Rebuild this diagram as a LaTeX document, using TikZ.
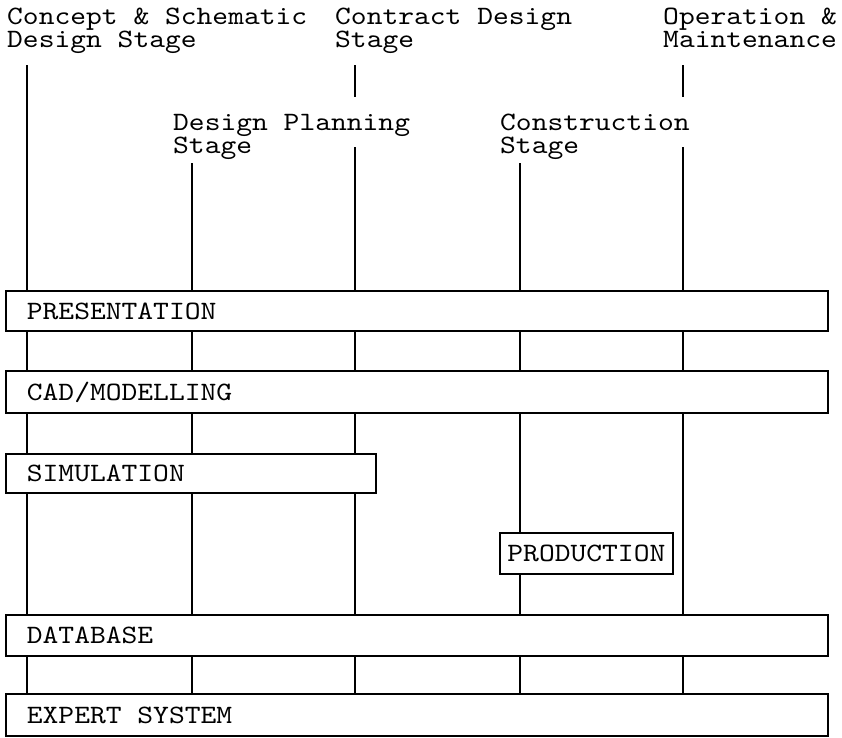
\documentclass[tikz,border=0pt]{standalone}
\usepackage{fontspec}
\newfontfamily\typewriterwide{lmmono10-regular}[Extension=.otf, FakeStretch=1.135]
\usetikzlibrary{backgrounds}
\newcommand\stagelabelfont{\typewriterwide\fontsize{26.5}{23}\selectfont\lineskiplimit-100pt\relax\lineskip0pt\relax}
\newcommand\layerfont{\typewriterwide\fontsize{26.5}{26}\selectfont}
\begin{document}
\begin{tikzpicture}[x=1pt,y=-1pt,
  lbl/.style={anchor=base west, inner sep=0pt, align=left, font=\stagelabelfont},
  layer/.style={draw, fill=white, line width=1.8pt, inner xsep=21pt, inner ysep=0pt,
    anchor=north west, font=\layerfont},
  stage/.style={line width=1.8pt}]
\useasboundingbox (0,0) rectangle (842,737);
% stage labels (anchored at the baseline of the last line)
\node[lbl] (l1) at (7,47.5) {Concept \& Schematic\\Design Stage};
\node[lbl] (l3) at (335,47.5) {Contract Design\\Stage};
\node[lbl] (l5) at (663,47.5) {Operation \&\\Maintenance};
\node[lbl] (l2) at (173,153.5) {Design Planning\\Stage};
\node[lbl] (l4) at (500,153.5) {Construction\\Stage};
% layer boxes
\node[layer, minimum width=822pt, minimum height=40pt] (pres) at (5,290) {\makebox[780pt][l]{PRESENTATION}};
\node[layer, minimum width=822pt, minimum height=42pt] (cad) at (5,370) {\makebox[780pt][l]{CAD/MODELLING}};
\node[layer, minimum width=370pt, minimum height=39pt] (sim) at (5,453) {\makebox[328pt][l]{SIMULATION}};
\node[layer, minimum width=173pt, minimum height=41pt, inner xsep=0pt] (prod) at (499,532) {PRODUCTION};
\node[layer, minimum width=822pt, minimum height=41pt] (db) at (5,614) {\makebox[780pt][l]{DATABASE}};
\node[layer, minimum width=822pt, minimum height=42pt] (exp) at (5,693) {\makebox[780pt][l]{EXPERT SYSTEM}};
% stage line ends
\coordinate (t1) at (27,65);
\coordinate (t2) at (192,163);
\coordinate (t3a) at (355,65);
\coordinate (t3b) at (355,97);
\coordinate (t3c) at (355,147);
\coordinate (t4) at (520,163);
\coordinate (t5a) at (683,65);
\coordinate (t5b) at (683,97);
\coordinate (t5c) at (683,147);
\begin{scope}[on background layer]
\draw[stage] (t1) -- (exp.north -| t1);
\draw[stage] (t2) -- (exp.north -| t2);
\draw[stage] (t3a) -- (t3b);
\draw[stage] (t3c) -- (exp.north -| t3c);
\draw[stage] (t4) -- (exp.north -| t4);
\draw[stage] (t5a) -- (t5b);
\draw[stage] (t5c) -- (exp.north -| t5c);
\end{scope}
\end{tikzpicture}
\end{document}
